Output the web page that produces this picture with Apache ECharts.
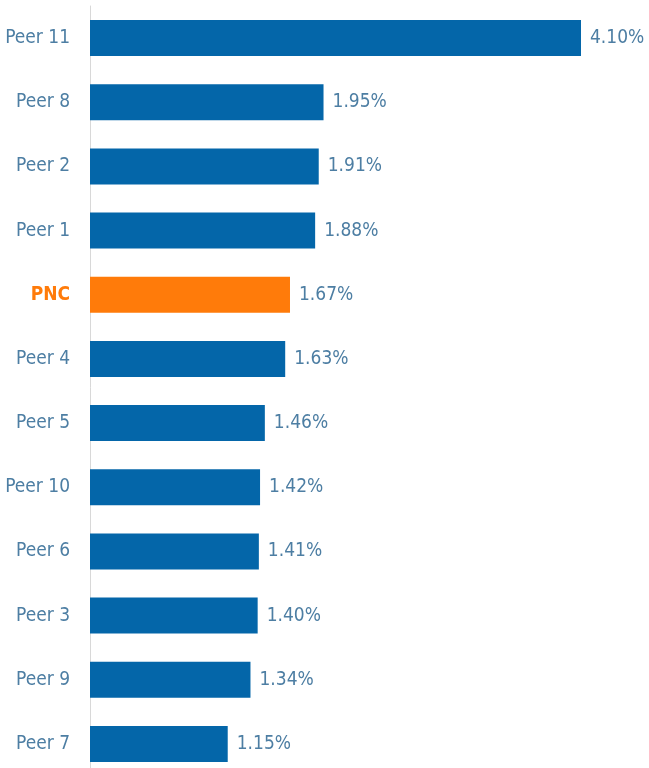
<!DOCTYPE html>
<html>
<head>
<meta charset="utf-8">
<script src="https://cdn.jsdelivr.net/npm/echarts@6/dist/echarts.min.js"></script>
<style>
  html, body { margin: 0; padding: 0; background: #fff; }
  #chart { width: 649px; height: 768px; }
</style>
</head>
<body>
<div id="chart"></div>
<script>
// top to bottom as in the picture
var categories = ['Peer 11', 'Peer 8', 'Peer 2', 'Peer 1', 'PNC', 'Peer 4', 'Peer 5', 'Peer 10', 'Peer 6', 'Peer 3', 'Peer 9', 'Peer 7'];
var values = [4.10, 1.95, 1.91, 1.88, 1.67, 1.63, 1.46, 1.42, 1.41, 1.40, 1.34, 1.15];
var highlight = 'PNC';

var blue = '#0466a9',
  orange = '#ff7b0a',
  textColor = '#4d7ea3';
var font = '"DejaVu Sans Condensed", "Liberation Sans Narrow", sans-serif';

var chart = echarts.init(document.getElementById('chart'));
var option = {
  animation: false,
  grid: {
    left: 90,
    width: 491,
    top: 6,
    height: 770,
    containLabel: false,
    outerBoundsMode: 'none'
  },
  xAxis: {
    type: 'value',
    min: 0,
    max: 4.1,
    show: false
  },
  yAxis: {
    type: 'category',
    inverse: true,
    data: categories,
    axisLine: {
      show: true,
      lineStyle: { color: '#d8d8d8', width: 1 }
    },
    axisTick: { show: false },
    axisLabel: {
      margin: 20,
      fontFamily: font,
      fontSize: 19,
      color: textColor,
      formatter: function(v) {
        return v === highlight ? '{hi|' + v + '}' : v;
      },
      rich: {
        hi: {
          color: orange,
          fontWeight: 'bold',
          fontFamily: font,
          fontSize: 19
        }
      }
    }
  },
  series: [{
    type: 'bar',
    barWidth: 36,
    data: values.map(function(v, i) {
      return {
        value: v,
        itemStyle: { color: categories[i] === highlight ? orange : blue }
      };
    }),
    label: {
      show: true,
      position: 'right',
      distance: 9,
      fontFamily: font,
      fontSize: 19,
      color: textColor,
      formatter: function(p) {
        return p.value.toFixed(2) + '%';
      }
    }
  }]
};
chart.setOption(option);
</script>
</body>
</html>
